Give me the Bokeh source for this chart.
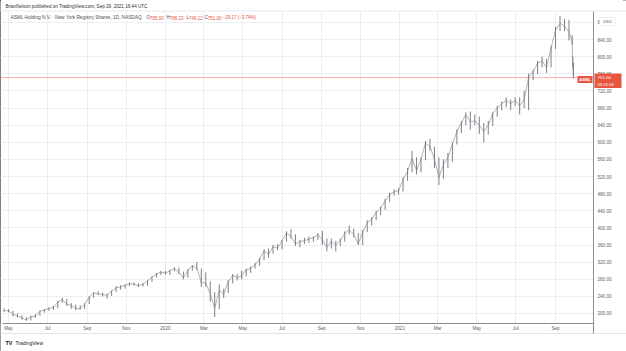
import pandas as pd
from bokeh.plotting import figure
from bokeh.models import FixedTicker, Label, Span, NumeralTickFormatter, BoxAnnotation
from bokeh.embed import file_html
from bokeh.resources import INLINE

# ---------------- data ----------------
first_week = "2019-04-24"          # mid-week date of the first weekly bar
weekly_high = [
    212, 210, 206, 200, 196, 191, 195, 198, 207, 210, 214, 218, 230, 237,
    234, 224, 221, 219, 224, 240, 250, 252, 249, 246, 254, 264, 266,
    268, 272, 273, 270, 271, 278, 287, 295, 299,
    300, 302, 308, 307, 298, 304, 313, 320, 305, 296, 275, 250, 268,
    258, 278, 292, 292, 300, 305, 310, 318, 330, 350, 352, 360, 362,
    372, 392, 397, 385, 372, 377, 380, 380, 388, 393, 375, 375, 370,
    375, 392, 405, 398, 388, 395, 418, 425, 440, 450, 468, 482, 490, 492,
    518, 540, 580, 565, 565, 603, 608, 590, 565, 560, 575, 600,
    630, 650, 670, 672, 665, 660, 645, 650, 670, 685, 695, 705, 700,
    705, 705, 720, 760, 770, 790, 800, 795, 825, 870, 895, 888, 886,
]
weekly_low = [
    204, 203, 194, 191, 186, 183, 184, 190, 195, 202, 206, 208, 212, 225,
    218, 211, 208, 209, 210, 222, 237, 243, 240, 235, 241, 250, 256,
    258, 264, 265, 262, 263, 265, 274, 284, 290,
    291, 290, 298, 292, 280, 284, 300, 302, 262, 262, 228, 192, 210,
    236, 248, 270, 277, 280, 287, 295, 305, 312, 325, 330, 340, 348,
    350, 368, 375, 358, 355, 362, 365, 368, 372, 360, 345, 352, 345,
    358, 368, 385, 378, 360, 360, 390, 405, 418, 430, 442, 460, 475, 478,
    485, 510, 530, 525, 530, 558, 580, 540, 500, 515, 540, 555,
    595, 622, 640, 630, 640, 620, 600, 618, 638, 660, 675, 682, 675,
    685, 665, 680, 675, 745, 760, 775, 762, 775, 818, 860, 860, 838,
]
weekly_close = [
    207, 206, 198, 194, 189, 185, 192, 194, 205, 208, 212, 214, 226, 233,
    221, 219, 212, 211, 222, 238, 248, 246, 244, 243, 252, 260, 262,
    266, 270, 268, 265, 269, 276, 285, 292, 297,
    294, 300, 305, 296, 283, 301, 311, 306, 272, 272, 245, 212, 255,
    245, 274, 289, 284, 288, 302, 305, 314, 327, 347, 338, 356, 353,
    370, 388, 380, 362, 368, 370, 374, 377, 384, 372, 355, 368, 360,
    370, 388, 395, 385, 362, 390, 412, 420, 436, 446, 463, 478, 484, 487,
    513, 532, 563, 534, 560, 598, 590, 560, 518, 548, 565, 596,
    625, 645, 665, 648, 650, 640, 625, 640, 668, 680, 690, 698, 690,
    698, 685, 700, 752, 765, 785, 790, 775, 820, 862, 878, 872, 858,
]
last_days = ["2021-09-27", "2021-09-28", "2021-09-29"]
last_high = [850, 801, 786.23]
last_low = [828, 775, 749.12]
last_close = [835, 780.17, 751.00]

price_ticks = [200, 240, 280, 320, 360, 400, 440, 480, 520, 560, 600, 640,
               680, 720, 760, 800, 840, 880]
time_tick_dates = ["2019-05-01", "2019-07-01", "2019-09-01", "2019-11-01",
                   "2020-01-01", "2020-03-01", "2020-05-01", "2020-07-01",
                   "2020-09-01", "2020-11-01", "2021-01-01", "2021-03-01",
                   "2021-05-01", "2021-07-01", "2021-09-01"]
time_tick_labels = ["May", "Jul", "Sep", "Nov", "2020", "Mar", "May", "Jul",
                    "Sep", "Nov", "2021", "Mar", "May", "Jul", "Sep"]
last_price = 751.00
header_text = "BrianNelson published on TradingView.com, Sep 29, 2021 16:44 UTC"
symbol_text = "ASML Holding N.V. - New York Registry Shares, 1D, NASDAQ"
ohlc_letters = ["O", "H", "L", "C"]
ohlc_values = ["785.00", "786.23", "749.12", "751.00"]
change_text = "\u221229.17 (\u22123.74%)"
countdown = "03:15:54"
ticker = "ASML"
currency = "USD"

# ---------------- build ----------------
dates = list(pd.date_range(first_week, periods=len(weekly_close), freq="7D")) + \
    [pd.Timestamp(d) for d in last_days]
highs = weekly_high + last_high
lows = weekly_low + last_low
closes = weekly_close + last_close

def ms(d):
    return pd.Timestamp(d).value / 10**6

W, H = 626, 351
# pixel anchors of the price pane
PL, PR, PT, PB = 3, 593, 11, 323
x_start = ms("2019-04-23 05:00")
x_end = ms("2021-10-30 07:00")
y_top, y_bot = 905.6, 176.6
sx = (x_end - x_start) / (PR - PL)
sy = (y_top - y_bot) / (PB - PT)

def X(px):
    return x_start + (px - PL) * sx

def Y(py):
    return y_bot + (PB - py) * sy

p = figure(width=W, height=H, x_axis_type="datetime", y_axis_location="right",
           x_range=(X(0), X(W)), y_range=(Y(H), Y(0)),
           output_backend="svg", toolbar_location=None,
           min_border_left=0, min_border_right=0,
           min_border_top=0, min_border_bottom=0)
p.background_fill_color = "white"
p.border_fill_color = None
p.outline_line_color = None
p.styles = {"background": "white",
            "box-shadow": "inset -3px -2px 0 0 #000000, inset 1px 0 0 0 #000000"}

font = "Liberation Sans"
axis_color = "#8a8d95"
label_color = "#5a5d66"

tick_ms = [int(ms(d)) for d in time_tick_dates]
p.xaxis.ticker = FixedTicker(ticks=tick_ms)
p.xaxis.major_label_overrides = {t: l for t, l in zip(tick_ms, time_tick_labels)}
p.xgrid.ticker = FixedTicker(ticks=tick_ms)
p.yaxis.ticker = FixedTicker(ticks=price_ticks)
p.ygrid.ticker = FixedTicker(ticks=price_ticks)
p.yaxis.formatter = NumeralTickFormatter(format="0.00")
p.yaxis.fixed_location = X(PR)
p.xaxis.fixed_location = Y(PB)
p.yaxis.bounds = (Y(333), Y(PT))
p.xaxis.bounds = (X(PL - 1), X(PR))
for ax in (p.xaxis, p.yaxis):
    ax.axis_line_color = axis_color
    ax.axis_line_width = 1
    ax.major_tick_line_color = None
    ax.minor_tick_line_color = None
    ax.major_tick_out = 0
    ax.major_tick_in = 0
    ax.minor_tick_out = 0
    ax.minor_tick_in = 0
    ax.major_label_text_font = font
    ax.major_label_text_font_size = "4.6px"
    ax.major_label_text_color = label_color
p.xaxis.major_label_standoff = 2
p.yaxis.major_label_standoff = 4
p.grid.grid_line_color = "#eceef2"
p.grid.grid_line_width = 1

# price line under the covers
p.add_layout(Span(location=last_price, dimension="width", line_color="#ef5350",
                  line_alpha=0.45, line_width=1, level="underlay"))
# white covers outside the price pane (hide grid there)
for kw in (dict(left=X(PR)), dict(bottom=Y(PT)), dict(top=Y(PB))):
    p.add_layout(BoxAnnotation(fill_color="white", fill_alpha=1, line_color=None,
                               level="underlay", **kw))
p.add_layout(Span(location=Y(PT - 0.5), dimension="width", line_color="#e6e8ee",
                  line_width=1, level="underlay"))
p.add_layout(Span(location=Y(333), dimension="width", line_color="#e0e3eb",
                  line_width=1, level="underlay"))

bar_color = "#7c7f86"
p.segment(x0=dates, y0=lows, x1=dates, y1=highs, line_color=bar_color, line_width=1)
p.line(x=dates, y=closes, line_color=bar_color, line_width=0.6)

def lab(cx, cy, text, **kw):
    kw.setdefault("text_font", font)
    kw.setdefault("text_baseline", "middle")
    kw.setdefault("text_align", "left")
    p.add_layout(Label(x=X(cx), y=Y(cy), text=text, **kw))

def box(l, r, t, b, **kw):
    p.add_layout(BoxAnnotation(left=X(l), right=X(r), top=Y(t), bottom=Y(b),
                               fill_alpha=1, **kw))

red = "#e8553f"
lab(5, 5.5, header_text, text_font_size="4.6px", text_color="#2a2e39")
lab(10, 17, symbol_text, text_font_size="4.75px", text_color="#4a4d56")
letter_w = {"O": 0.778, "H": 0.722, "L": 0.556, "C": 0.722}
fs = 4.5
for cx, l, v in zip([146, 166, 186, 204], ohlc_letters, ohlc_values):
    lab(cx, 17, l, text_font_size="%.1fpx" % fs, text_color="#4a4d56")
    lab(cx + letter_w[l] * fs, 17, v, text_font_size="%.1fpx" % fs, text_color=red)
lab(222, 17, change_text, text_font_size="%.1fpx" % fs, text_color=red)

box(599, 615, 17, 25, fill_color="white", line_color="#b2b5be", line_width=0.7,
    border_radius=2)
lab(607, 21, currency, text_font_size="4.2px", text_color=label_color, text_align="center")
box(577, 592, 75.5, 82.5, fill_color=red, line_color=None)
lab(584.5, 79, ticker, text_font_size="4px", text_color="white", text_align="center",
    text_font_style="bold")
box(594, 621, 73, 87.5, fill_color=red, line_color=None)
lab(597, 77, "%.2f" % last_price, text_font_size="4.4px", text_color="white")
lab(597, 83.5, countdown, text_font_size="4.2px", text_color="white")

lab(5, 342, "TV", text_font_size="5.5px", text_color="#131722", text_font_style="bold")
lab(15, 342, "TradingView", text_font_size="5px", text_color="#131722")

open("out.html", "w").write(file_html(p, INLINE))
